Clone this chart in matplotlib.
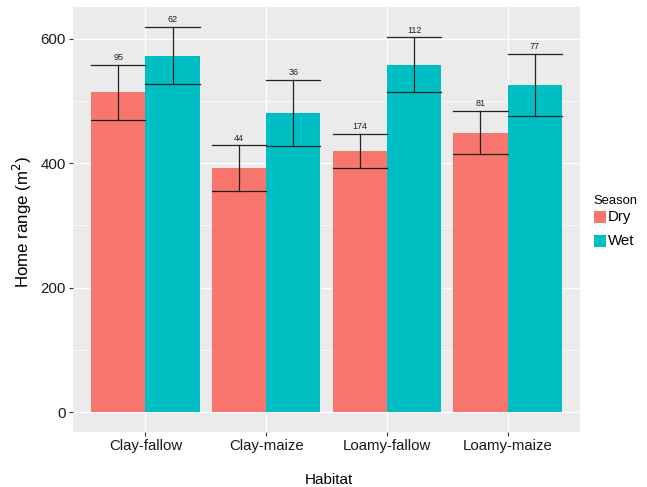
import numpy as np
import matplotlib
matplotlib.use("Agg")
import matplotlib.pyplot as plt
from matplotlib.patches import Rectangle

plt.rcParams["font.family"] = ["Liberation Sans", "DejaVu Sans"]

# data
habitats = ["Clay-fallow", "Clay-maize", "Loamy-fallow", "Loamy-maize"]
seasons = ["Dry", "Wet"]
dry_mean = [514, 392, 420, 449]
wet_mean = [573, 481, 558, 526]
dry_se = [44, 37, 27, 35]
wet_se = [46, 53, 44, 50]
dry_n = [95, 44, 174, 81]
wet_n = [62, 36, 112, 77]

colors = {"Dry": "#F8766D", "Wet": "#00BFC4"}

W, H = 647, 487
fig = plt.figure(figsize=(W / 100, H / 100), dpi=100)
ax = fig.add_axes([73 / W, 1 - 432 / H, (580 - 73) / W, (432 - 7) / H])
ax.set_facecolor("#EBEBEB")

x = np.arange(1, len(habitats) + 1)
w = 0.45
series = [("Dry", dry_mean, dry_se, dry_n, -w / 2),
          ("Wet", wet_mean, wet_se, wet_n, w / 2)]

for name, means, ses, ns, off in series:
    pos = x + off
    ax.bar(pos, means, width=w, color=colors[name], zorder=3)
    for p, m, s, n in zip(pos, means, ses, ns):
        lo, hi = m - s, m + s
        ax.plot([p, p], [lo, hi], color="#222222", lw=0.9, zorder=4)
        ax.plot([p - w / 2, p + w / 2], [lo, lo], color="#222222", lw=0.9, zorder=4)
        ax.plot([p - w / 2, p + w / 2], [hi, hi], color="#222222", lw=0.9, zorder=4)
        ax.text(p, hi + 4, str(n), ha="center", va="bottom", fontsize=6.5,
                color="#222222", zorder=5)

# ggplot-like grid
for v in [100, 300, 500]:
    ax.axhline(v, color="white", lw=0.5, zorder=1)
for v in [0, 200, 400, 600]:
    ax.axhline(v, color="white", lw=1.0, zorder=1)
for v in x:
    ax.axvline(v, color="white", lw=1.0, zorder=1)

ax.set_xlim(0.4, 4.6)
ax.set_ylim(-32, 651)
ax.set_xticks(x)
ax.set_xticklabels(habitats)
ax.set_yticks([0, 200, 400, 600])
for sp in ax.spines.values():
    sp.set_visible(False)
ax.tick_params(axis="both", colors="#333333", length=3, width=0.8,
               labelsize=10.8, labelcolor="#1a1a1a", pad=2)

fig.text(329 / W, 1 - 480 / H, "Habitat", fontsize=11, ha="center", va="center")
fig.text(22 / W, 1 - 222 / H, "Home range (m$^2$)", fontsize=12.2,
         rotation=90, ha="center", va="center")

# legend
fig.text(593 / W, 1 - 201 / H, "Season", fontsize=9.4, ha="left", va="center")
for i, s in enumerate(seasons):
    top = 211 + i * 24
    fig.patches.append(Rectangle((594 / W, 1 - (top + 12) / H), 12 / W, 12 / H,
                                 transform=fig.transFigure, facecolor=colors[s],
                                 edgecolor="none"))
    fig.text(608 / W, 1 - (top + 6) / H, s, fontsize=10.8, ha="left", va="center")

fig.savefig("out.png", dpi=100)
